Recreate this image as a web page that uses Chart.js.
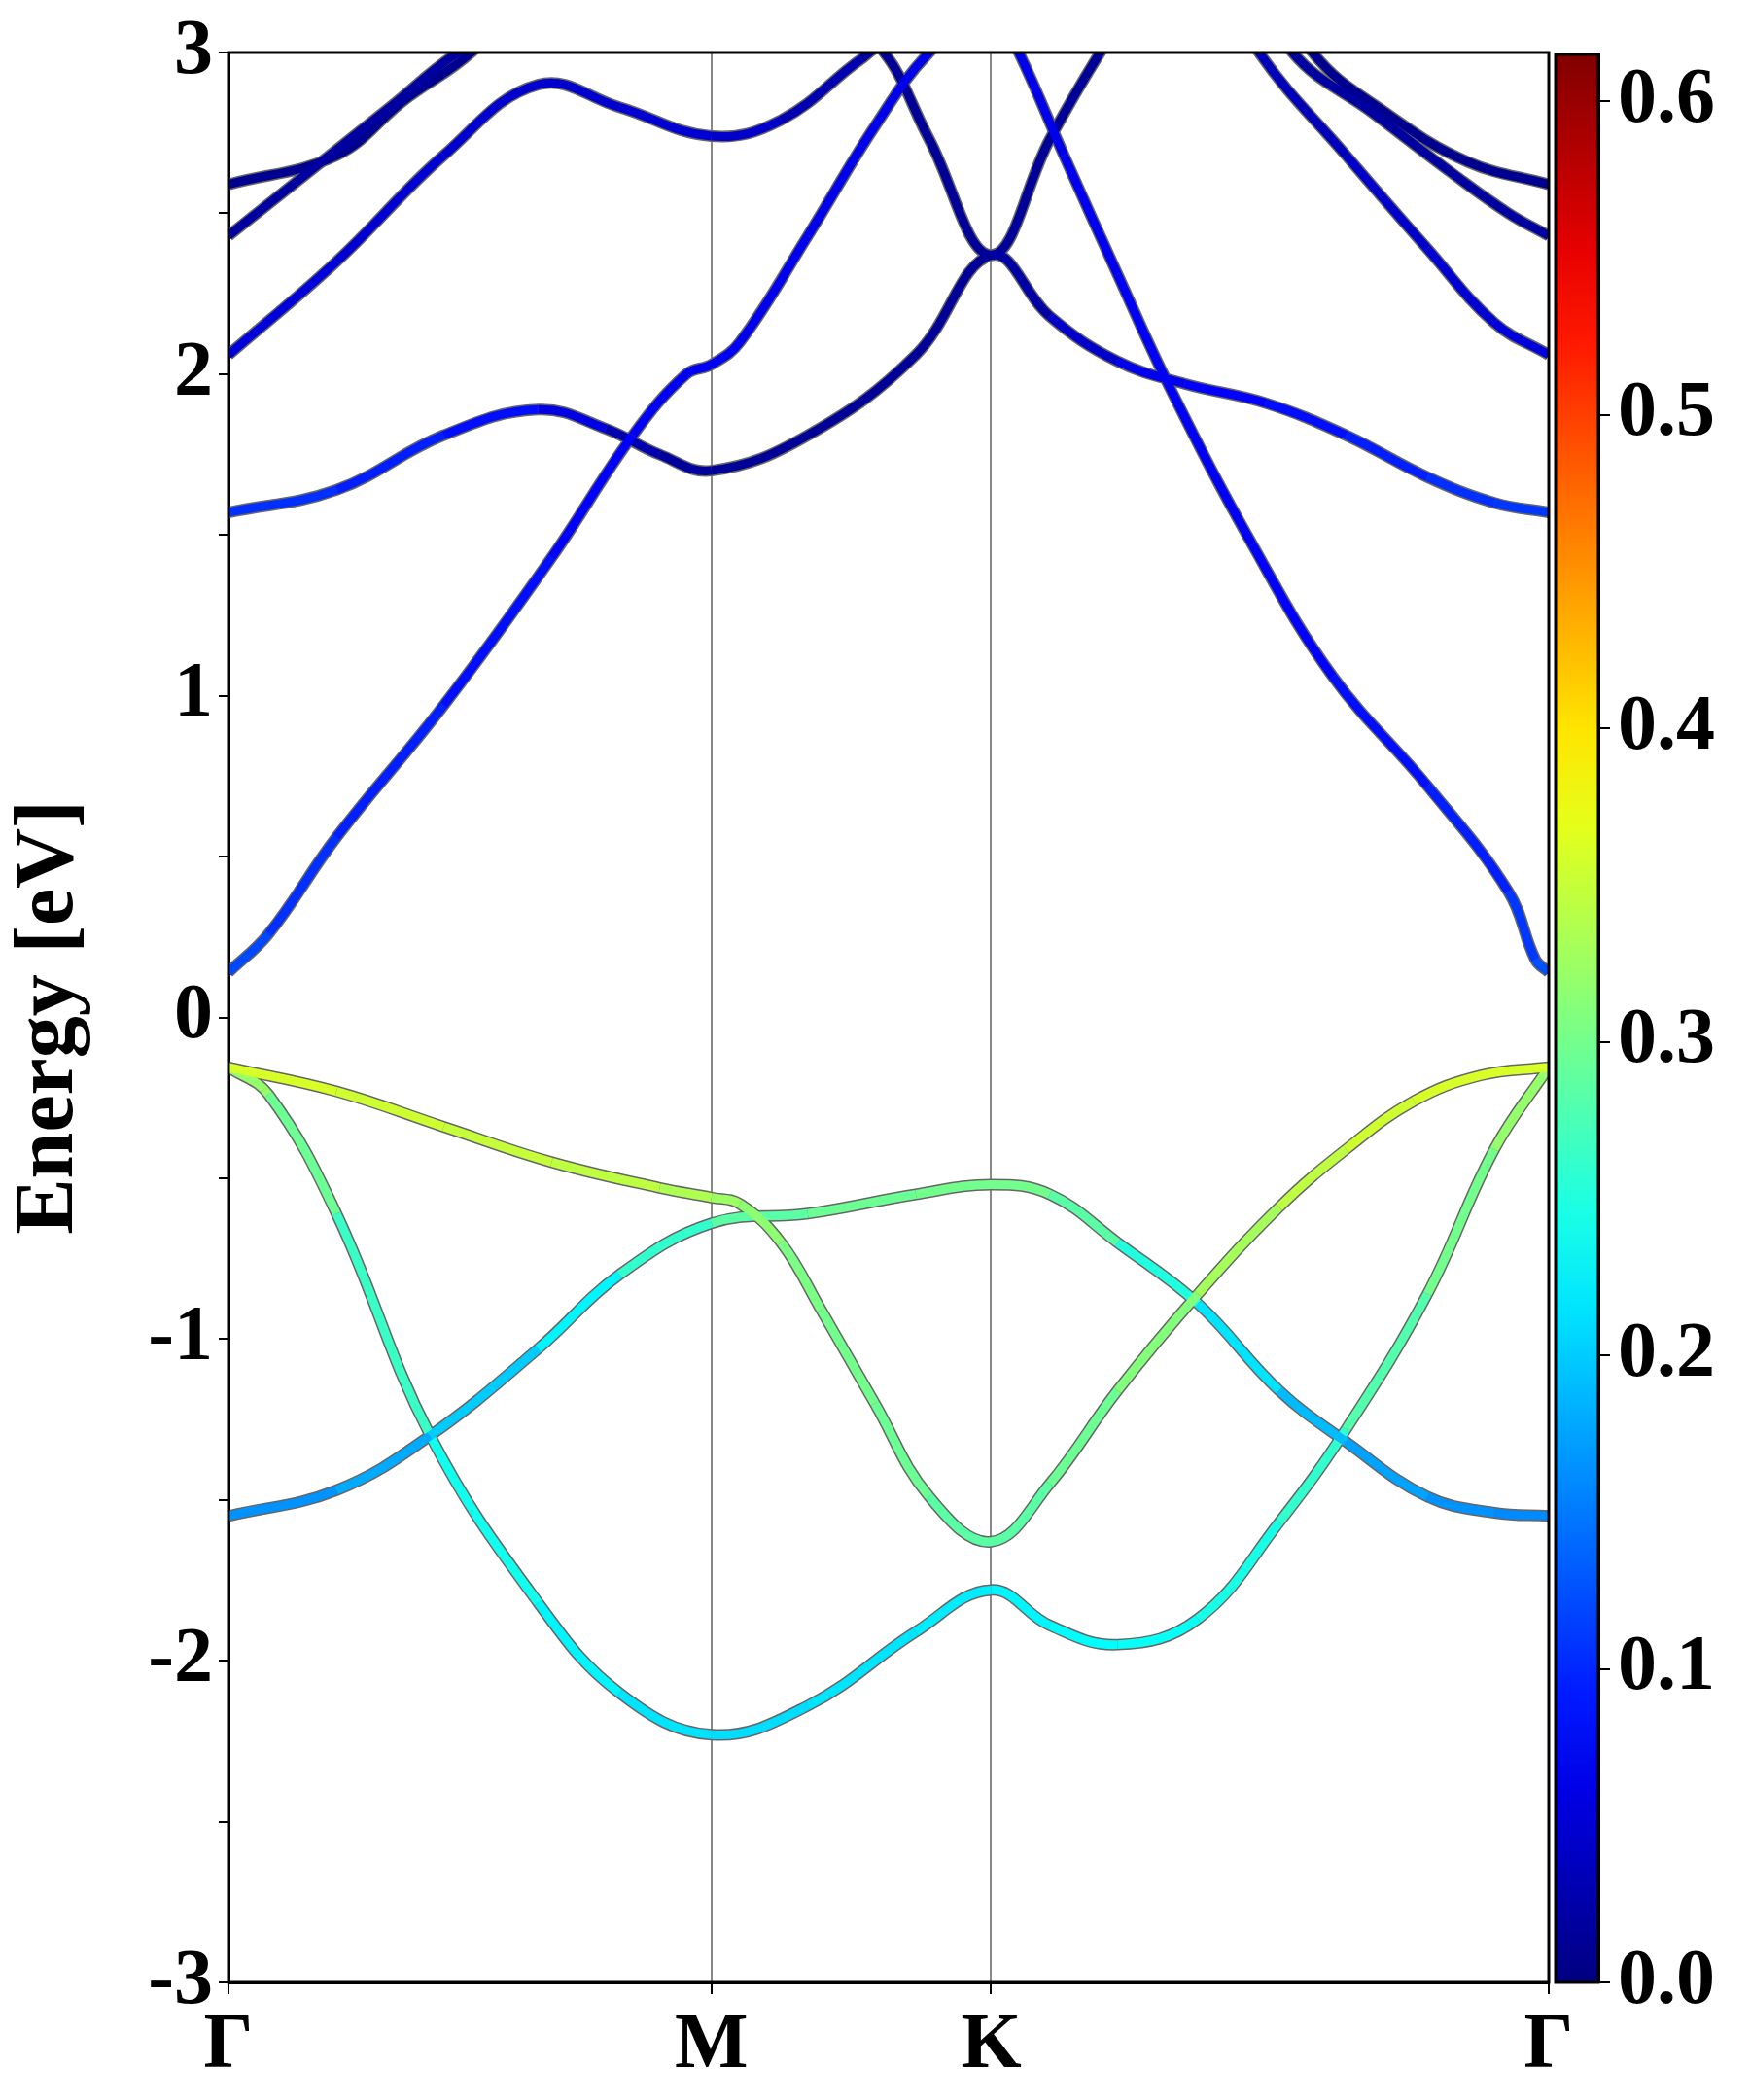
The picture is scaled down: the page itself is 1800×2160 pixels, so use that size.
<!DOCTYPE html>
<html><head><meta charset="utf-8">
<script src="https://cdn.jsdelivr.net/npm/chart.js@4"></script>
<style>html,body{margin:0;padding:0;background:#fff}#wrap{position:relative;width:1800px;height:2160px}canvas{position:absolute;left:0;top:0}</style>
</head><body><div id="wrap"><canvas id="c1" width="1800" height="2160"></canvas><canvas id="c2" width="1800" height="2160"></canvas></div>
<script>
const kTicks=[0,0.577,0.911,1.577];
const kLabels=['Γ','M','K','Γ'];
const cbTicks=[0.0,0.1,0.2,0.3,0.4,0.5,0.6];
const cbMax=0.615;

const bandA_k=[0,.129,.257,.386,.515,.577,.611,.660,.708,.772,.837,.911,.981,1.062,1.158,1.255,1.335,1.416,1.496,1.577];
const bandA_E=[-0.155,-0.23,-0.34,-0.45,-0.53,-0.56,-0.58,-0.70,-0.91,-1.20,-1.49,-1.63,-1.45,-1.16,-0.86,-0.59,-0.41,-0.26,-0.18,-0.155];
const bandA_w=[0.36,0.36,0.35,0.35,0.34,0.33,0.32,0.31,0.30,0.30,0.29,0.28,0.29,0.30,0.32,0.34,0.35,0.36,0.36,0.36];
const bandB_k=[0,.129,.241,.370,.467,.577,.692,.821,.911,.981,1.062,1.158,1.255,1.335,1.432,1.512,1.577];
const bandB_E=[-1.55,-1.47,-1.30,-1.03,-0.80,-0.64,-0.61,-0.55,-0.52,-0.55,-0.70,-0.89,-1.16,-1.32,-1.49,-1.54,-1.55];
const bandB_w=[0.16,0.17,0.19,0.21,0.24,0.28,0.29,0.30,0.30,0.30,0.27,0.23,0.20,0.18,0.17,0.16,0.16];
const bandC_k=[0,.048,.129,.241,.370,.467,.577,.692,.821,.911,.981,1.062,1.158,1.255,1.335,1.432,1.512,1.577];
const bandC_E=[-0.155,-0.24,-0.61,-1.30,-1.82,-2.10,-2.23,-2.14,-1.91,-1.78,-1.89,-1.95,-1.87,-1.57,-1.28,-0.86,-0.41,-0.155];
const bandC_w=[0.33,0.31,0.28,0.25,0.23,0.22,0.21,0.21,0.22,0.22,0.23,0.23,0.24,0.25,0.27,0.29,0.31,0.33];
const cb1_k=[0,.048,.129,.257,.386,.483,.547,.577,.611,.692,.772,.837,.911,.944,.998,1.062,1.126,1.223,1.319,1.432,1.529,1.561,1.577];
const cb1_E=[0.14,0.26,0.56,0.97,1.43,1.81,2.00,2.03,2.10,2.43,2.77,3.0,3.15,3.0,2.68,2.31,1.95,1.47,1.06,0.72,0.39,0.18,0.14];
const cb1_w=[0.13,0.11,0.10,0.09,0.08,0.07,0.07,0.07,0.07,0.065,0.065,0.065,0.065,0.065,0.065,0.07,0.07,0.07,0.08,0.09,0.10,0.12,0.13];
const cb2_k=[0,.129,.257,.370,.451,.515,.577,.692,.821,.911,.981,1.062,1.142,1.239,1.335,1.432,1.512,1.577];
const cb2_E=[1.57,1.64,1.81,1.89,1.83,1.75,1.70,1.81,2.06,2.37,2.18,2.04,1.97,1.91,1.81,1.68,1.60,1.57];
const cb2_w=[0.11,0.10,0.09,0.08,0.04,0.02,0.015,0.015,0.015,0.015,0.03,0.06,0.07,0.08,0.09,0.10,0.11,0.11];
const cb3_k=[0,.129,.257,.370,.467,.577,.660,.756,.780,.837,.911,.981,1.046,1.142,1.231,1.335,1.432,1.512,1.577];
const cb3_E=[2.06,2.35,2.68,2.90,2.83,2.74,2.79,2.98,3.01,2.73,2.37,2.73,3.02,3.4,3.0,2.68,2.39,2.16,2.06];
const cb3_w=[0.06,0.05,0.05,0.045,0.05,0.05,0.04,0.02,0.015,0.015,0.015,0.015,0.015,0.02,0.03,0.04,0.05,0.05,0.06];
const cb4_k=[0,.193,.274,.577,.911,1.142,1.271,1.368,1.464,1.529,1.577];
const cb4_E=[2.43,2.83,3.0,3.5,3.8,3.5,3.0,2.81,2.62,2.50,2.43];
const cb4_w=[0.02,0.02,0.02,0.02,0.02,0.02,0.02,0.02,0.02,0.02,0.02];
const cb5_k=[0,.129,.209,.290,.577,.911,1.142,1.295,1.384,1.480,1.577];
const cb5_E=[2.59,2.68,2.85,3.0,3.7,4.0,3.6,3.0,2.81,2.66,2.59];
const cb5_w=[0.01,0.01,0.01,0.01,0.01,0.01,0.01,0.01,0.01,0.01,0.01];

function jet(w){const t=Math.max(0,Math.min(1,w/cbMax));const c=v=>Math.round(255*Math.max(0,Math.min(1,v)));
 return `rgb(${c(1.5-Math.abs(4*t-3))},${c(1.5-Math.abs(4*t-2))},${c(1.5-Math.abs(4*t-1))})`;}
const bands=[[bandA_k,bandA_E,bandA_w],[bandB_k,bandB_E,bandB_w],[bandC_k,bandC_E,bandC_w],[cb1_k,cb1_E,cb1_w],[cb2_k,cb2_E,cb2_w],[cb3_k,cb3_E,cb3_w],[cb4_k,cb4_E,cb4_w],[cb5_k,cb5_E,cb5_w]];
const F="'Times New Roman', 'Liberation Serif', Times, serif";
function build(){
const datasets=[];
bands.forEach(([k,E,w])=>{
 const data=k.map((x,i)=>({x,y:E[i]}));
 datasets.push({data,borderColor:'#666',borderWidth:12,pointRadius:0,tension:0.4,order:10});
 datasets.push({data,borderWidth:9,pointRadius:0,tension:0.4,order:0,
  borderColor:jet(w[0]),segment:{borderColor:ctx=>jet((w[ctx.p0DataIndex]+w[ctx.p1DataIndex])/2)}});
});
new Chart(document.getElementById('c1'),{type:'line',data:{datasets},
 options:{responsive:false,animation:false,events:[],
  layout:{padding:{top:48,right:207,left:0,bottom:0}},
  plugins:{legend:{display:false},tooltip:{enabled:false}},
  scales:{
   x:{type:'linear',min:0,max:1.577,
    afterBuildTicks:s=>{s.ticks=kTicks.map(v=>({value:v}));},
    afterFit:s=>{s.height=121;},
    ticks:{callback:(v,i)=>kLabels[i],color:'#000',font:{family:F,size:80,weight:'bold'},padding:6,maxRotation:0,autoSkip:false},
    grid:{color:c=>(c.index===1||c.index===2)?'#888':'rgba(0,0,0,0)',lineWidth:2,tickLength:12,tickColor:'#000',drawTicks:true},
    border:{color:'#000',width:3}},
   y:{min:-3,max:3,
    afterBuildTicks:s=>{const t=[];for(let v=-3;v<=3.001;v+=0.5)t.push({value:Math.round(v*2)/2});s.ticks=t;},
    afterFit:s=>{s.width=235;},
    ticks:{callback:v=>Number.isInteger(v)?String(v):'',color:'#000',font:{family:F,size:80,weight:'bold'},padding:6,autoSkip:false},
    grid:{drawOnChartArea:false,tickLength:10,tickColor:'#000',lineWidth:2},
    border:{color:'#000',width:3},
    title:{display:true,text:'Energy [eV]',color:'#000',font:{family:F,size:86,weight:'bold'},padding:0}}
  }},
 plugins:[{id:'frame',afterDraw(ch){const a=ch.chartArea,c=ch.ctx;c.save();c.strokeStyle='#000';c.lineWidth=3;c.strokeRect(a.left,a.top,a.right-a.left,a.bottom-a.top);c.restore();}}]
});
new Chart(document.getElementById('c2'),{type:'bar',
 data:{labels:['w'],datasets:[{data:[cbMax],barPercentage:1,categoryPercentage:1,
  backgroundColor:ctx=>{const a=ctx.chart.chartArea;if(!a)return '#000';const g=ctx.chart.ctx.createLinearGradient(0,a.bottom,0,a.top);for(let i=0;i<=20;i++)g.addColorStop(i/20,jet(cbMax*i/20));return g;}}]},
 options:{responsive:false,animation:false,events:[],
  layout:{padding:{top:48,left:1600,right:0,bottom:121}},
  plugins:{legend:{display:false},tooltip:{enabled:false}},
  scales:{x:{display:false},
   y:{position:'right',min:0,max:cbMax,afterBuildTicks:s=>{s.ticks=cbTicks.map(v=>({value:v}));},
    afterFit:s=>{s.width=156;},
    ticks:{callback:v=>v.toFixed(1),color:'#000',font:{family:F,size:80,weight:'bold'},padding:8},
    grid:{drawOnChartArea:false,tickLength:12,tickColor:'#000',lineWidth:2},border:{color:'#000',width:3}}}},
 plugins:[{id:'frame2',afterDraw(ch){const a=ch.chartArea,c=ch.ctx;c.save();c.strokeStyle='#000';c.lineWidth=3;c.strokeRect(a.left,a.top,a.right-a.left,a.bottom-a.top);c.restore();}}]
});
}
Promise.all([document.fonts.load("bold 80px 'Liberation Serif'"),document.fonts.load("bold 80px 'Times New Roman'")]).then(build,build);
</script></body></html>
